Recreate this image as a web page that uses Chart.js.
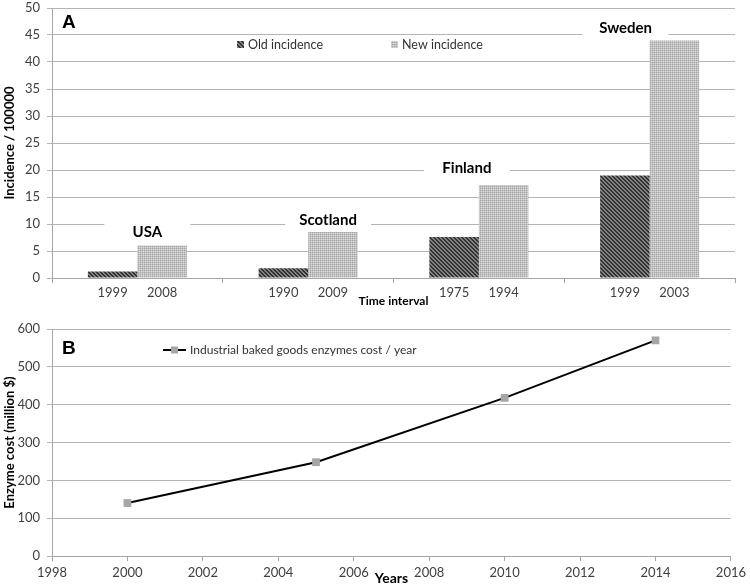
<!DOCTYPE html>
<html><head><meta charset="utf-8">
<script src="https://cdn.jsdelivr.net/npm/chart.js@4.4.0/dist/chart.umd.min.js"></script>
<style>
html,body{margin:0;padding:0;background:#fff;}
#wrap{position:relative;width:750px;height:587px;overflow:hidden;background:#fff;}
canvas{position:absolute;left:0;}
#cA{top:0}
#cB{top:310px}
</style></head><body>
<div id="wrap"><canvas id="cA" width="750" height="310"></canvas><canvas id="cB" width="750" height="277"></canvas></div>
<script>
// ---- Panel A data ----
const countries = ['USA', 'Scotland', 'Finland', 'Sweden'];
const oldYears = ['1999', '1990', '1975', '1999'];
const newYears = ['2008', '2009', '1994', '2003'];
const oldIncidence = [1.2, 1.8, 7.6, 19.0];
const newIncidence = [6.0, 8.5, 17.2, 44.0];
const seriesA = ['Old incidence', 'New incidence'];

// ---- Panel B data ----
const costYears = [2000, 2005, 2010, 2014];
const enzymeCost = [140, 248, 418, 570];
const seriesB = 'Industrial baked goods enzymes cost / year';

const FF = "Lato, 'Open Sans', 'DejaVu Sans', sans-serif";
const TICK = '#404040';
const GRID = '#b4b4b4';
const AXIS = '#a6a6a6';

function makePattern(fn) {
  const c = document.createElement('canvas');
  c.width = 4; c.height = 4;
  const x = c.getContext('2d');
  const img = x.createImageData(4, 4);
  for (let j = 0; j < 4; j++) for (let i = 0; i < 4; i++) {
    const v = fn(i, j); const k = (j * 4 + i) * 4;
    img.data[k] = v; img.data[k + 1] = v; img.data[k + 2] = v; img.data[k + 3] = 255;
  }
  x.putImageData(img, 0, 0);
  return x.createPattern(c, 'repeat');
}
const patOld = makePattern((i, j) => (((i - j) % 4 + 4) % 4 < 2 ? 50 : 130));
const patNew = makePattern((i, j) => (i % 2 === 0 && j % 2 === 0) ? 165 : ((i + j) % 2 === 1 ? 195 : 215));

function pinY(s) { s.width = 52; s.paddingTop = 0; s.paddingBottom = 0; }

const annotA = {
  id: 'annotA',
  labelPos(chart, i, o) {
    const m0 = chart.getDatasetMeta(0), m1 = chart.getDatasetMeta(1);
    const cx = chart.scales.x.getPixelForValue(i);
    const top = Math.min(m0.data[i].y, m1.data[i].y);
    return { x: cx + o.dx[i], y: top + o.dy[i] };
  },
  beforeDatasetsDraw(chart, args, o) {
    const ctx = chart.ctx;
    ctx.save();
    ctx.fillStyle = '#fff';
    countries.forEach((c, i) => {
      const p = this.labelPos(chart, i, o);
      ctx.fillRect(p.x - 43, p.y - 10, 86, 20);
    });
    ctx.restore();
  },
  afterDatasetsDraw(chart, args, o) {
    const ctx = chart.ctx, ca = chart.chartArea;
    ctx.save();
    // country labels
    ctx.font = "bold 15px " + FF;
    ctx.fillStyle = '#000';
    ctx.textAlign = 'center'; ctx.textBaseline = 'middle';
    countries.forEach((c, i) => {
      const p = this.labelPos(chart, i, o);
      ctx.fillText(c, p.x, p.y);
    });
    // year labels under bars
    ctx.font = "13px " + FF;
    ctx.fillStyle = TICK;
    [oldYears, newYears].forEach((yrs, d) => {
      chart.getDatasetMeta(d).data.forEach((bar, i) => {
        ctx.fillText(yrs[i], bar.x, ca.bottom + 15);
      });
    });
    // legend
    ctx.textAlign = 'left';
    ctx.font = "12.5px " + FF;
    chart.data.datasets.forEach((ds, d) => {
      const lx = ca.left + o.legendX[d], ly = ca.top + 37;
      ctx.fillStyle = ds.backgroundColor;
      ctx.fillRect(lx, ly - 4, 7, 7);
      ctx.fillStyle = '#333';
      ctx.fillText(ds.label, lx + 11, ly);
    });
    // panel letter
    ctx.font = "bold 19px 'Liberation Sans', Arial, sans-serif";
    ctx.fillStyle = '#000';
    ctx.textBaseline = 'alphabetic';
    ctx.fillText('A', ca.left + 10, ca.top + 20);
    ctx.restore();
  }
};

new Chart(document.getElementById('cA'), {
  type: 'bar',
  data: {
    labels: countries,
    datasets: [
      { label: seriesA[0], data: oldIncidence, backgroundColor: patOld, borderWidth: 0, categoryPercentage: 0.58, barPercentage: 1 },
      { label: seriesA[1], data: newIncidence, backgroundColor: patNew, borderWidth: 0, categoryPercentage: 0.58, barPercentage: 1 }
    ]
  },
  options: {
    responsive: false, animation: false, devicePixelRatio: 1,
    layout: { padding: { left: 0, right: 15, top: 8, bottom: 0 } },
    plugins: {
      legend: { display: false }, tooltip: { enabled: false },
      annotA: { dx: [10, 20, -12, -24], dy: [-13, -12, -17, -12], legendX: [185, 339] }
    },
    scales: {
      x: {
        offset: true,
        grid: { offset: true, drawOnChartArea: false, drawTicks: true, tickLength: 5, color: AXIS },
        border: { color: AXIS },
        ticks: { display: false },
        title: { display: true, text: 'Time interval', color: '#000', font: { family: FF, size: 12, weight: 'bold' }, padding: { top: 0, bottom: 2 } },
        afterFit(s) { s.height = 32; }
      },
      y: {
        min: 0, max: 50,
        ticks: { stepSize: 5, color: TICK, font: { family: FF, size: 13 }, padding: 7 },
        grid: { color: GRID, tickLength: 5 },
        border: { color: AXIS },
        title: { display: true, text: 'Incidence / 100000', color: '#000', font: { family: FF, size: 13, weight: 'bold' }, padding: { top: 2, bottom: 0 } },
        afterFit: pinY
      }
    }
  },
  plugins: [annotA]
});

const annotB = {
  id: 'annotB',
  afterDatasetsDraw(chart) {
    const ctx = chart.ctx, ca = chart.chartArea;
    const ds = chart.data.datasets[0];
    ctx.save();
    const ly = ca.top + 21, lx = ca.left + 111;
    ctx.strokeStyle = ds.borderColor; ctx.lineWidth = 2;
    ctx.beginPath(); ctx.moveTo(lx, ly); ctx.lineTo(lx + 23, ly); ctx.stroke();
    ctx.fillStyle = ds.pointBackgroundColor;
    ctx.fillRect(lx + 8, ly - 3.5, 7, 7);
    ctx.font = "12px " + FF; ctx.fillStyle = '#333';
    ctx.textAlign = 'left'; ctx.textBaseline = 'middle';
    ctx.fillText(ds.label, lx + 27, ly);
    ctx.font = "bold 19px 'Liberation Sans', Arial, sans-serif";
    ctx.fillStyle = '#000'; ctx.textBaseline = 'alphabetic';
    ctx.fillText('B', ca.left + 10, ca.top + 25);
    ctx.restore();
  }
};

new Chart(document.getElementById('cB'), {
  type: 'line',
  data: {
    datasets: [{
      label: seriesB,
      data: costYears.map((x, i) => ({ x: x, y: enzymeCost[i] })),
      borderColor: '#000', borderWidth: 2, tension: 0,
      pointStyle: 'rect', pointRadius: 5.5, pointBackgroundColor: '#a6a6a6', pointBorderColor: '#a6a6a6', pointBorderWidth: 0
    }]
  },
  options: {
    responsive: false, animation: false, devicePixelRatio: 1,
    layout: { padding: { left: 0, right: 17, top: 19, bottom: 0 } },
    plugins: { legend: { display: false }, tooltip: { enabled: false } },
    scales: {
      x: {
        type: 'linear', min: 1998, max: 2016,
        ticks: { stepSize: 2, color: TICK, font: { family: FF, size: 13 }, padding: 4, callback: v => String(v) },
        grid: { drawOnChartArea: false, drawTicks: true, tickLength: 5, color: AXIS },
        border: { color: AXIS },
        title: { display: true, text: 'Years', color: '#000', font: { family: FF, size: 14, weight: 'bold' }, padding: { top: 0, bottom: 0 } },
        afterFit(s) { s.height = 31; }
      },
      y: {
        min: 0, max: 600,
        ticks: { stepSize: 100, color: TICK, font: { family: FF, size: 13 }, padding: 7 },
        grid: { color: GRID, tickLength: 5 },
        border: { color: AXIS },
        title: { display: true, text: 'Enzyme cost (million $)', color: '#000', font: { family: FF, size: 13, weight: 'bold' }, padding: { top: 2, bottom: 0 } },
        afterFit: pinY
      }
    }
  },
  plugins: [annotB]
});
</script>
</body></html>
